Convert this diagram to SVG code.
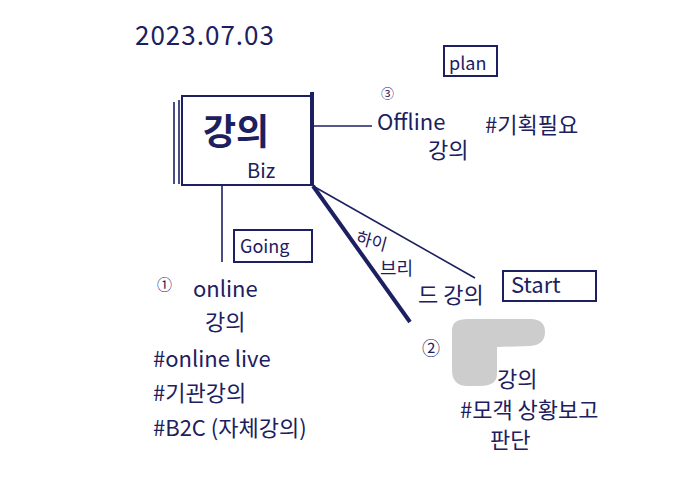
<svg xmlns="http://www.w3.org/2000/svg" width="691" height="500" viewBox="0 0 691 500">
<style>
text{font-family:"Noto Sans CJK KR","Noto Sans",sans-serif;fill:#1c2060;}
.t{font-size:22px;}
.s{font-size:18px;}
.box{fill:none;stroke:#1c2060;stroke-width:2;}
.ln{stroke:#1c2060;stroke-width:1.6;fill:none;}
</style>
<rect width="691" height="500" fill="#fff"/>
<text x="135" y="45" font-size="26" letter-spacing="1">2023.07.03</text>
<g id="main">
<rect class="box" x="182" y="96" width="130" height="89"/>
<line class="ln" x1="174" y1="102" x2="174" y2="184"/>
<line class="ln" x1="179" y1="100" x2="179" y2="184"/>
<line x1="312" y1="92" x2="312" y2="186" stroke="#1c2060" stroke-width="4"/>
<text x="203" y="145" font-size="36" font-weight="bold">강의</text>
<text x="247" y="178" font-size="20">Biz</text>
</g>
<g id="plan">
<rect class="box" x="444" y="46" width="53" height="30"/>
<text x="449" y="70" class="s">plan</text>
</g>
<g id="offline">
<text x="381" y="98" font-size="13">③</text>
<text x="377" y="130" class="t">Offline</text>
<text x="428" y="158" class="t">강의</text>
<text x="485" y="133" class="t">#기획필요</text>
</g>
<g id="going">
<rect class="box" x="234" y="230" width="78" height="32"/>
<text x="240" y="253" class="s">Going</text>
</g>
<g id="online">
<text x="157" y="290" font-size="15">①</text>
<text x="193" y="297" class="t">online</text>
<text x="205" y="330" class="t">강의</text>
<text x="153" y="367" class="t">#online live</text>
<text x="153" y="401" class="t">#기관강의</text>
<text x="153" y="436" class="t">#B2C (자체강의)</text>
</g>
<g id="hybrid">
<text x="355" y="243" font-size="17" transform="rotate(15 355 243)">하이</text>
<text x="380" y="275" class="s">브리</text>
<text x="418" y="303" class="t">드 강의</text>
</g>
<g id="start">
<rect class="box" x="503" y="271" width="93" height="30"/>
<text x="511" y="293" class="t">Start</text>
</g>
<g id="hidden">
<path d="M452 330 Q452 319 468 319 L532 319 Q545 320 545 332 Q545 345 530 346 L497 347 L497 374 Q497 386 480 386 L466 386 Q452 385 452 370 Z" fill="#cdcdcd"/>
<text x="422" y="355" font-size="18">②</text>
<text x="497" y="387" class="t">강의</text>
<text x="460" y="418" class="t">#모객 상황보고</text>
<text x="490" y="448" class="t">판단</text>
</g>
<g id="connectors">
<line class="ln" x1="313" y1="126" x2="372" y2="126"/>
<line class="ln" x1="222" y1="186" x2="222" y2="262"/>
<line x1="313" y1="186" x2="410" y2="322" stroke="#1c2060" stroke-width="4"/>
<line class="ln" x1="313" y1="186" x2="475" y2="278"/>
</g>
</svg>
